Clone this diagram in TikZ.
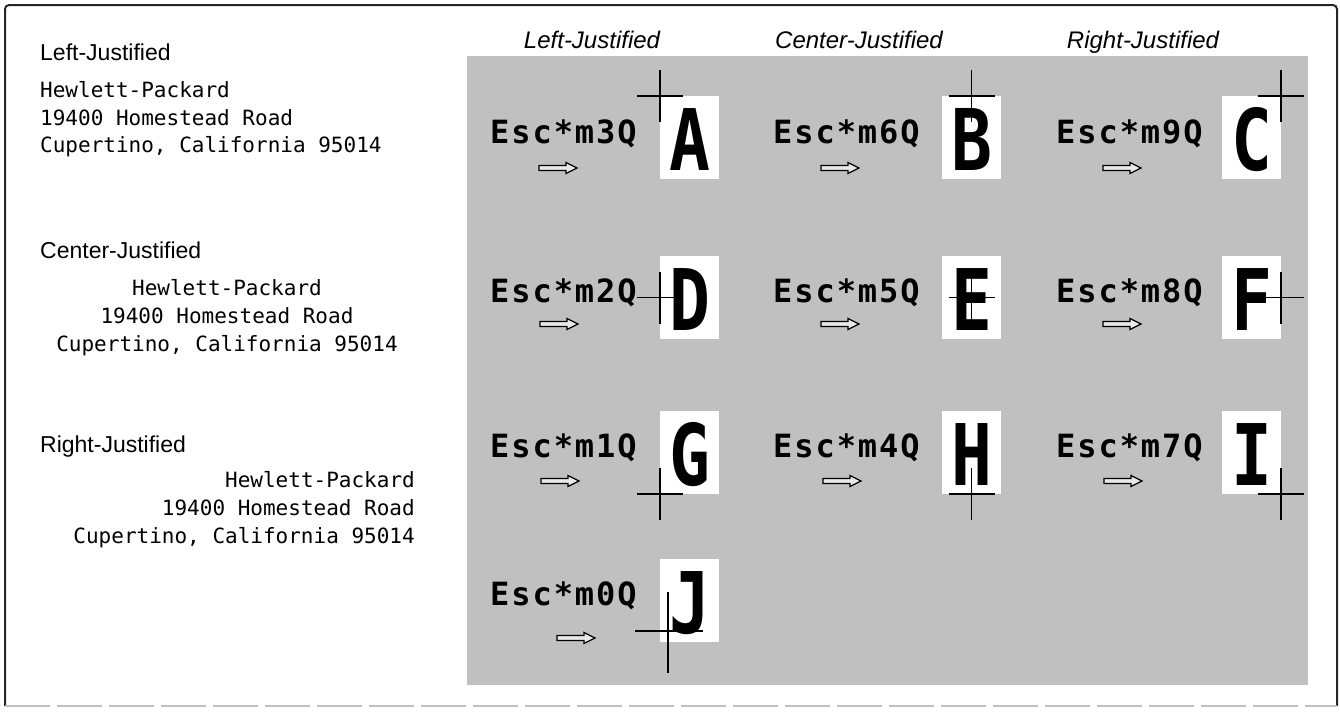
\documentclass[tikz,border=0pt]{standalone}
\usepackage{fontspec}
\usepackage{graphicx}
\setmainfont{Liberation Sans}
\newfontfamily\plotfont{DejaVu Sans Mono}
\newfontfamily\escfont[LetterSpace=6]{DejaVu Sans Mono}
\newfontfamily\charfont{DejaVu Sans Mono}
\definecolor{panel}{RGB}{192,192,192}
\tikzset{
  lbl/.style={font=\fontsize{23}{23}\selectfont, anchor=base west, inner sep=0pt},
  hdr/.style={font=\fontsize{24}{24}\selectfont\itshape, anchor=base, inner sep=0pt},
  addr/.style={font=\plotfont\fontsize{21}{21}\selectfont, inner sep=0pt},
  esctxt/.style={font=\escfont\bfseries\fontsize{32}{32}\selectfont, anchor=base west, inner sep=0pt},
  cbox/.style={fill=white, draw=none, minimum width=59pt, minimum height=83pt, anchor=north west, inner sep=0pt},
  chr/.style={font=\charfont\bfseries\fontsize{85}{85}\selectfont, anchor=base, inner sep=0pt},
  xhair/.style={line width=1.6pt},
  hollow/.style={line width=1.3pt, fill=panel!35!white, line join=miter},
  frameline/.style={line width=2pt, black!85},
}
\begin{document}
\begin{tikzpicture}[x=1pt,y=-1pt]
\useasboundingbox (0,0) rectangle (1340,713);
% frame
\draw[frameline, rounded corners=4pt] (5,706) -- (5,5) -- (1337,5) -- (1337,706);
\draw[line width=1.5pt, black!25, dash pattern=on 45pt off 7pt] (5,706) -- (1337,706);
% grey panel
\fill[panel] (467,56) rectangle (1308,685);
% left side samples
\node[lbl] (lj) at (40,60) {Left-Justified};
\node[addr, anchor=base west] (lj1) at (40,97) {Hewlett-Packard};
\node[addr, anchor=base west] (lj2) at (40,125) {19400 Homestead Road};
\node[addr, anchor=base west] (lj3) at (40,152) {Cupertino, California 95014};
\node[lbl] (cj) at (40,258) {Center-Justified};
\node[addr, anchor=base] (cj1) at (227,295) {Hewlett-Packard};
\node[addr, anchor=base] (cj2) at (227,323) {19400 Homestead Road};
\node[addr, anchor=base] (cj3) at (227,351) {Cupertino, California 95014};
\node[lbl] (rj) at (40,452) {Right-Justified};
\node[addr, anchor=base east] (rj1) at (415,487) {Hewlett-Packard};
\node[addr, anchor=base east] (rj2) at (415,515) {19400 Homestead Road};
\node[addr, anchor=base east] (rj3) at (415,543) {Cupertino, California 95014};
% column headers
\node[hdr] (h1) at (592,48) {Left-Justified};
\node[hdr] (h2) at (859,48) {Center-Justified};
\node[hdr] (h3) at (1143,48) {Right-Justified};
% cells
\foreach \n/\ex/\ey/\txt/\bx/\by/\ch/\hx/\hy/\ax/\ay in {
  A/490/143/Esc*m3Q/660/96/A/660/96/539/168,
  B/773/143/Esc*m6Q/942/96/B/971.5/96/821/168,
  C/1056/143/Esc*m9Q/1222/96/C/1281/96/1103/168,
  D/490/302/Esc*m2Q/660/256/D/660/297.5/540/324,
  E/773/302/Esc*m5Q/942/256/E/971.5/297.5/821/324,
  F/1056/302/Esc*m8Q/1222/256/F/1281/297.5/1103/324,
  G/490/457/Esc*m1Q/660/411/G/660/494/541/481,
  H/773/457/Esc*m4Q/942/411/H/971.5/494/823/481,
  I/1056/457/Esc*m7Q/1222/411/I/1281/494/1104/481}
{
  \node[esctxt] (esc\n) at (\ex,\ey) {\txt};
  \node[cbox] (box\n) at (\bx,\by) {};
  \node[chr] (chr\n) at (\bx+29.5,\by+74) {\scalebox{0.8}[1]{\ch}};
  \coordinate (x\n) at (\hx,\hy);
  \coordinate (xl\n) at (\hx-23,\hy);
  \coordinate (xr\n) at (\hx+23,\hy);
  \coordinate (xt\n) at (\hx,\hy-26);
  \coordinate (xb\n) at (\hx,\hy+26);
  \draw[xhair] (xl\n) -- (xr\n);
  \draw[xhair] (xt\n) -- (xb\n);
  \draw[hollow, shift={(\ax,\ay)}] (0,-2.5) -- (27,-2.5) -- (27,-5.5) -- (38,0) -- (27,5.5) -- (27,2.5) -- (0,2.5) -- cycle;
}
% last cell J
\node[esctxt] (escJ) at (490,605) {Esc*m0Q};
\node[cbox] (boxJ) at (660,559) {};
\node[chr] (chrJ) at (689.5,633) {\scalebox{0.8}[1]{J}};
\coordinate (xJ) at (668,631);
\coordinate (xlJ) at (635,631);
\coordinate (xrJ) at (703,631);
\coordinate (xtJ) at (668,592);
\coordinate (xbJ) at (668,673);
\draw[xhair] (xlJ) -- (xrJ);
\draw[xhair] (xtJ) -- (xbJ);
\draw[hollow, shift={(557,638)}] (0,-2.5) -- (27,-2.5) -- (27,-5.5) -- (38,0) -- (27,5.5) -- (27,2.5) -- (0,2.5) -- cycle;
\end{tikzpicture}
\end{document}
